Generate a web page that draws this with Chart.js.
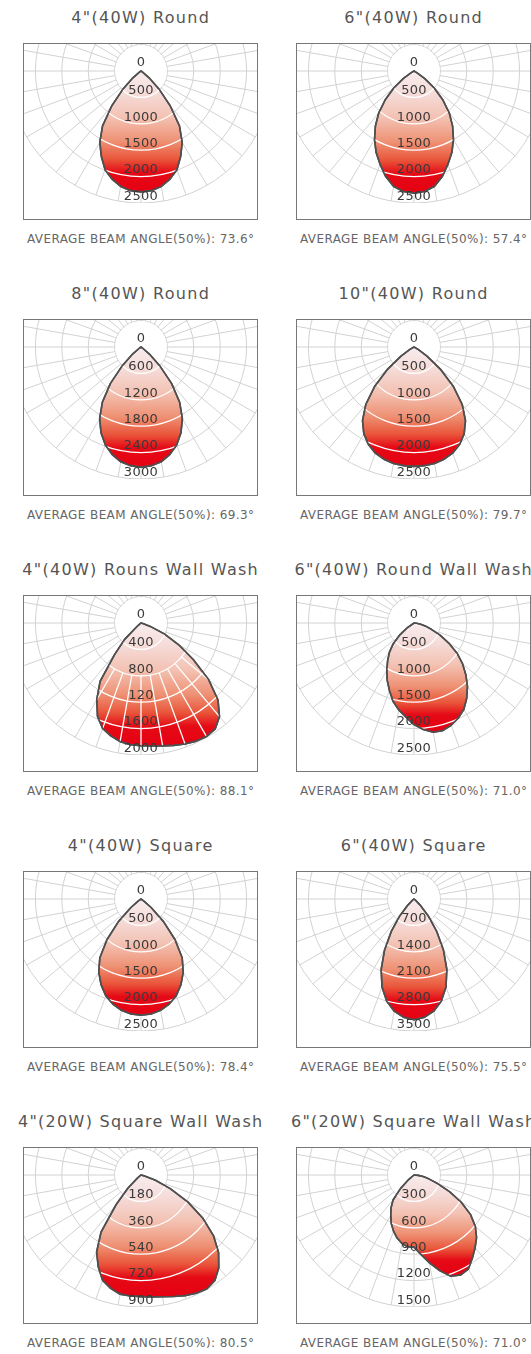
<!DOCTYPE html>
<html>
<head>
<meta charset="utf-8">
<script src="https://cdn.jsdelivr.net/npm/chart.js@4/dist/chart.umd.min.js"></script>
<style>
  html, body { margin: 0; padding: 0; background: #fff; }
  body { width: 531px; height: 1354px; position: relative; overflow: hidden; font-family: "DejaVu Sans", sans-serif; }
  .title { position: absolute; width: 320px; text-align: center; font-size: 16px; letter-spacing: 1.3px; color: #555; white-space: nowrap; line-height: 20px; }
  .box { position: absolute; width: 233px; height: 175px; border: 1px solid #777; overflow: hidden; background: #fff; }
  .box canvas { position: absolute; left: -15px; top: -105px; }
  .caption { position: absolute; width: 320px; text-align: center; font-size: 12px; letter-spacing: 0.4px; color: #666; white-space: nowrap; line-height: 16px; }
</style>
</head>
<body>
<script>
// gamma angles from nadir, 5 degree steps (index = gamma / 5)
const gamma = [0, 5, 10, 15, 20, 25, 30, 35, 40, 45, 50, 55, 60, 65, 70, 75, 80, 85, 90];

// candela values per gamma step; missing tail = 0
const round4 = [2290, 2275, 2220, 2120, 1990, 1780, 1560, 1270, 860, 480, 200, 30, 0];
const round6 = [2316, 2290, 2220, 2070, 1880, 1700, 1494, 1275, 1040, 770, 500, 250, 60, 0];
const round8 = [2730, 2710, 2650, 2530, 2370, 2150, 1880, 1530, 1080, 600, 250, 40, 0];
const round10 = [2260, 2255, 2240, 2200, 2140, 2040, 1900, 1700, 1420, 1050, 650, 300, 90, 0];
const washRound4Left = [1860, 1850, 1825, 1770, 1700, 1560, 1340, 1080, 620, 350, 60, 0];
const washRound4Right = [1860, 1870, 1890, 1920, 1950, 1975, 1985, 1960, 1850, 1650, 1340, 970, 660, 390, 150, 40, 0];
const washRound6Left = [1925, 1785, 1670, 1535, 1360, 1200, 1030, 870, 725, 560, 350, 150, 0];
const washRound6Right = [1925, 2025, 2100, 2110, 2060, 1985, 1888, 1740, 1575, 1390, 1200, 995, 760, 545, 350, 230, 130, 50, 0];
const square4 = [2200, 2185, 2140, 2060, 1950, 1790, 1600, 1360, 1000, 600, 250, 60, 0];
const square6 = [3200, 3150, 3020, 2800, 2480, 2060, 1560, 1050, 600, 250, 60, 0];
const washSquare4Left = [829, 828, 825, 800, 765, 690, 605, 475, 265, 125, 30, 0];
const washSquare4Right = [829, 835, 843, 858, 875, 890, 897, 878, 825, 748, 646, 515, 370, 220, 105, 30, 0];
const washSquare6Left = [820, 818, 790, 742, 680, 610, 528, 455, 370, 215, 80, 0];
const washSquare6Right = [820, 905, 1015, 1125, 1225, 1254, 1235, 1156, 1080, 1005, 910, 785, 620, 445, 285, 180, 115, 50, 0];

// ring labels (as printed) and ring spacing
const ticks500 = ['0', '500', '1000', '1500', '2000', '2500'];
const ticks600 = ['0', '600', '1200', '1800', '2400', '3000'];
const ticks400 = ['0', '400', '800', '120', '1600', '2000'];
const ticks700 = ['0', '700', '1400', '2100', '2800', '3500'];
const ticks180 = ['0', '180', '360', '540', '720', '900'];
const ticks300 = ['0', '300', '600', '900', '1200', '1500'];
const ringSteps = [500, 500, 600, 500, 400, 500, 500, 700, 180, 300];

const titles = ['4"(40W) Round', '6"(40W) Round', '8"(40W) Round', '10"(40W) Round',
  '4"(40W) Rouns Wall Wash', '6"(40W) Round Wall Wash', '4"(40W) Square', '6"(40W) Square',
  '4"(20W) Square Wall Wash', '6"(20W) Square Wall Wash'];
const beamAngles = ['73.6', '57.4', '69.3', '79.7', '88.1', '71.0', '78.4', '75.5', '80.5', '71.0'];

const panels = [
  { left: round4, right: round4, labels: ticks500 },
  { left: round6, right: round6, labels: ticks500 },
  { left: round8, right: round8, labels: ticks600 },
  { left: round10, right: round10, labels: ticks500 },
  { left: washRound4Left, right: washRound4Right, labels: ticks400, spokes: true },
  { left: washRound6Left, right: washRound6Right, labels: ticks500 },
  { left: square4, right: square4, labels: ticks500 },
  { left: square6, right: square6, labels: ticks700 },
  { left: washSquare4Left, right: washSquare4Right, labels: ticks180 },
  { left: washSquare6Left, right: washSquare6Right, labels: ticks300 }
];

const SLOTS = 72;   // 5 degree spokes all round
const angleNames = [];
for (let a = 0; a < 360; a += 5) angleNames.push(a + '°');

// radar index i runs clockwise from nadir: i -> left side, 72 - i -> right side
function lobe(left, right) {
  const out = new Array(SLOTS).fill(0);
  gamma.forEach((g, i) => {
    if (i === 0) { out[0] = left[0] || 0; return; }
    out[i] = left[i] || 0;
    out[SLOTS - i] = right[i] || 0;
  });
  return out;
}

function lobePath(ctx, meta) {
  ctx.beginPath();
  meta.data.forEach((p, i) => i ? ctx.lineTo(p.x, p.y) : ctx.moveTo(p.x, p.y));
  ctx.closePath();
}

// blank disc inside the first ring, drawn over the spokes
const innerDisc = {
  id: 'innerDisc',
  beforeDatasetsDraw(chart) {
    const s = chart.scales.r, ctx = chart.ctx;
    const r1 = s.getDistanceFromCenterForValue(s.ticks[1].value);
    ctx.save();
    ctx.beginPath();
    ctx.arc(s.xCenter, s.yCenter, r1 - 0.5, 0, Math.PI * 2);
    ctx.fillStyle = '#fff';
    ctx.fill();
    ctx.restore();
  }
};

// white rings (and spokes) over the filled lobe, then the outline again
const lobeOverlay = {
  id: 'lobeOverlay',
  afterDatasetsDraw(chart, args, opts) {
    const s = chart.scales.r, ctx = chart.ctx;
    const meta = chart.getDatasetMeta(0);
    ctx.save();
    lobePath(ctx, meta);
    ctx.clip();
    ctx.strokeStyle = '#fff';
    ctx.lineWidth = 1.3;
    s.ticks.forEach(t => {
      if (t.value <= 0) return;
      ctx.beginPath();
      ctx.arc(s.xCenter, s.yCenter, s.getDistanceFromCenterForValue(t.value), 0, Math.PI * 2);
      ctx.stroke();
    });
    if (opts.spokes) {
      const r2 = s.getDistanceFromCenterForValue(s.ticks[2].value);
      for (let i = 0; i < SLOTS; i += 2) {
        const a = s.getPointPosition(i, r2), b = s.getPointPosition(i, s.drawingArea);
        ctx.beginPath();
        ctx.moveTo(a.x, a.y);
        ctx.lineTo(b.x, b.y);
        ctx.stroke();
      }
    }
    ctx.restore();
    ctx.save();
    lobePath(ctx, meta);
    ctx.strokeStyle = '#4f4f4f';
    ctx.lineWidth = 1.6;
    ctx.lineJoin = 'round';
    ctx.stroke();
    ctx.restore();
  }
};

// ring values printed upright down the nadir axis
const ringLabels = {
  id: 'ringLabels',
  afterDraw(chart, args, opts) {
    const s = chart.scales.r, ctx = chart.ctx;
    ctx.save();
    ctx.font = '13px "DejaVu Sans"';
    ctx.letterSpacing = '0.3px';
    ctx.fillStyle = '#3a3a3a';
    ctx.textAlign = 'center';
    ctx.textBaseline = 'middle';
    opts.labels.forEach((txt, k) => {
      const d = s.getDistanceFromCenterForValue(s.ticks[k].value);
      ctx.fillText(txt, s.xCenter, s.yCenter + d - (k === 0 ? 8 : 6.5));
    });
    ctx.restore();
  }
};

panels.forEach((p, n) => {
  const col = n % 2, row = Math.floor(n / 2);
  const boxLeft = col ? 296 : 23;
  const boxTop = 43.3 + row * 275.9;
  const midX = boxLeft + 117.7;

  const title = document.createElement('div');
  title.className = 'title';
  title.textContent = titles[n];
  title.style.left = (midX - 160) + 'px';
  title.style.top = (boxTop - 35) + 'px';
  document.body.appendChild(title);

  const box = document.createElement('div');
  box.className = 'box';
  box.style.left = boxLeft + 'px';
  box.style.top = boxTop + 'px';
  const canvas = document.createElement('canvas');
  canvas.width = 264;
  canvas.height = 264;
  box.appendChild(canvas);
  document.body.appendChild(box);

  const cap = document.createElement('div');
  cap.className = 'caption';
  cap.textContent = 'AVERAGE BEAM ANGLE(50%): ' + beamAngles[n] + '°';
  cap.style.left = (midX - 160) + 'px';
  cap.style.top = (boxTop + 177 + 11) + 'px';
  document.body.appendChild(cap);

  const step = ringSteps[n];
  new Chart(canvas, {
    type: 'radar',
    data: {
      labels: angleNames,
      datasets: [{
        data: lobe(p.left, p.right),
        fill: true,
        borderColor: '#4f4f4f',
        borderWidth: 1.6,
        pointRadius: 0,
        backgroundColor: (c) => {
          const chart = c.chart, s = chart.scales.r;
          if (!s || s.yCenter === undefined) return '#ee9478';
          const vals = chart.data.datasets[0].data;
          let bottom = s.yCenter + 1;
          vals.forEach((v, i) => { bottom = Math.max(bottom, s.getPointPositionForValue(i, v).y); });
          const g = chart.ctx.createLinearGradient(0, s.yCenter, 0, bottom);
          g.addColorStop(0, '#f8eded');
          g.addColorStop(0.18, '#f5dcd9');
          g.addColorStop(0.38, '#f3c2b3');
          g.addColorStop(0.58, '#ee9174');
          g.addColorStop(0.73, '#e9553a');
          g.addColorStop(0.84, '#e50a16');
          g.addColorStop(1, '#e60012');
          return g;
        }
      }]
    },
    options: {
      responsive: false,
      animation: false,
      devicePixelRatio: 1,
      layout: { padding: 0 },
      plugins: {
        legend: { display: false },
        tooltip: { enabled: false },
        lobeOverlay: { spokes: !!p.spokes },
        ringLabels: { labels: p.labels }
      },
      scales: {
        r: {
          startAngle: 180,
          min: 0,
          max: step * 5,
          ticks: { display: false, stepSize: step },
          pointLabels: { display: false },
          grid: { circular: true, color: '#d2d2d2', lineWidth: 1 },
          angleLines: {
            color: '#d2d2d2',
            lineWidth: (c) => (c.index % 2 === 0 ? 1 : 0)
          }
        }
      }
    },
    plugins: [innerDisc, lobeOverlay, ringLabels]
  });
});
</script>
</body>
</html>
